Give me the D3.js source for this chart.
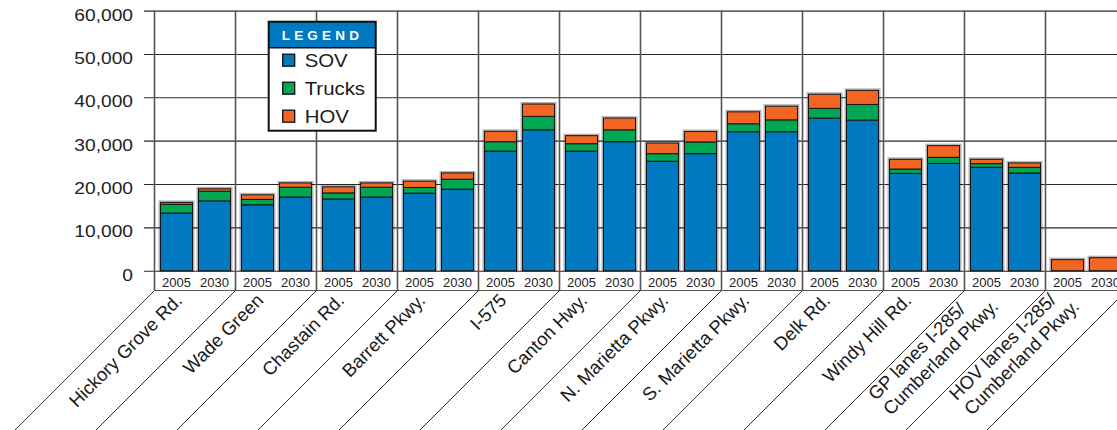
<!DOCTYPE html>
<html>
<head>
<meta charset="utf-8">
<script src="https://cdn.jsdelivr.net/npm/d3@7"></script>
<style>
  html, body { margin: 0; padding: 0; background: #fff; }
  svg { display: block; font-family: "Liberation Sans", Arial, Helvetica, sans-serif; }
</style>
</head>
<body>
<svg id="chart" width="1117" height="430"></svg>
<script>
// Daily volumes by corridor location, 2005 vs 2030, split by vehicle type
const categories = [
  "Hickory Grove Rd.", "Wade Green", "Chastain Rd.", "Barrett Pkwy.", "I-575",
  "Canton Hwy.", "N. Marietta Pkwy.", "S. Marietta Pkwy.", "Delk Rd.", "Windy Hill Rd.",
  "GP lanes I-285/\nCumberland Pkwy.", "HOV lanes I-285/\nCumberland Pkwy."
];
const years = ["2005", "2030"];
const series = ["SOV", "Trucks", "HOV"];

const sov2005    = [13300, 15200, 16550, 17900, 27600, 27600, 25250, 32050, 35200, 22450, 23850, 0];
const sov2030    = [16100, 17000, 17000, 18800, 32500, 29750, 27000, 32050, 34750, 24750, 22550, 0];
const trucks2005 = [2000, 1250, 1400, 1300, 2150, 1700, 1750, 1850, 2250, 1000, 850, 0];
const trucks2030 = [2250, 2250, 2250, 2300, 3100, 2750, 2700, 2750, 3600, 1400, 1300, 0];
const hov2005    = [450, 1050, 1400, 1450, 2400, 1850, 2450, 2750, 3250, 2250, 1000, 2550];
const hov2030    = [550, 1000, 1000, 1450, 2850, 2700, 2400, 3150, 3250, 2700, 1000, 3000];

const yTicks = [0, 10000, 20000, 30000, 40000, 50000, 60000];

const colors = { SOV: "#0079c1", Trucks: "#00a651", HOV: "#f26522" };

const W = 1117, H = 430;
const plotLeft = 154.5, groupStep = 81;
const stripBottom = 290.5;   // bottom edge of the year strip under the bars
const svg = d3.select("#chart");

const byYear = {
  "2005": { SOV: sov2005, Trucks: trucks2005, HOV: hov2005 },
  "2030": { SOV: sov2030, Trucks: trucks2030, HOV: hov2030 }
};
const rows = [];
categories.forEach((c, i) => years.forEach(yr => {
  rows.push({ cat: c, year: yr, SOV: byYear[yr].SOV[i], Trucks: byYear[yr].Trucks[i], HOV: byYear[yr].HOV[i] });
}));
const stacked = d3.stack().keys(series)(rows);

// Scales
const x0 = d3.scaleBand().domain(categories)
  .range([plotLeft, plotLeft + groupStep * categories.length]).padding(0);
const x1 = d3.scaleBand().domain(years).range([6, 76]).paddingInner(6 / 38).paddingOuter(0);
const y = d3.scaleLinear().domain([0, 60000]).range([270.7, 10.6]);

// Horizontal gridlines + value labels
const axis = d3.axisLeft(y).tickValues(yTicks).tickFormat(d3.format(","))
  .tickSize(-(W - 144)).tickPadding(11);
const gAxis = svg.append("g").attr("transform", "translate(144,0)").call(axis);
gAxis.select(".domain").remove();
gAxis.selectAll(".tick line").attr("stroke", "#2a2a2a").attr("stroke-width", 1.1);
const sx = 1.2;
gAxis.selectAll(".tick text")
  .attr("font-size", 16).attr("fill", "#222")
  .attr("font-family", "\"Liberation Sans\", Arial, sans-serif")
  .attr("x", -11 / sx).attr("y", 4.5)
  .attr("transform", `scale(${sx},1)`);

// Group separators, year strip and slanted label dividers
const seps = categories.map(c => x0(c)).concat([x0.range()[1]]);
svg.append("line").attr("x1", plotLeft).attr("x2", W)
  .attr("y1", stripBottom).attr("y2", stripBottom)
  .attr("stroke", "#555").attr("stroke-width", 1.2);
svg.append("g").selectAll("line").data(seps).join("line")
  .attr("x1", d => d).attr("x2", d => d)
  .attr("y1", y(60000)).attr("y2", stripBottom)
  .attr("stroke", "#555").attr("stroke-width", 1.6);
svg.append("g").selectAll("line").data(seps).join("line")
  .attr("x1", d => d).attr("y1", stripBottom)
  .attr("x2", d => d - 220).attr("y2", stripBottom + 220)
  .attr("stroke", "#333").attr("stroke-width", 1);

// Bars: soft halo, then stacked segments
const barX = d => x0(d.cat) + x1(d.year);
svg.append("g").selectAll("rect").data(rows).join("rect")
  .attr("x", d => barX(d) - 1).attr("width", x1.bandwidth() + 2)
  .attr("y", d => y(d.SOV + d.Trucks + d.HOV) - 1)
  .attr("height", d => y(0) - y(d.SOV + d.Trucks + d.HOV) + 1)
  .attr("fill", "none").attr("stroke", "rgba(0,0,0,0.3)").attr("stroke-width", 2);

svg.append("g").selectAll("g").data(stacked).join("g")
  .attr("fill", s => colors[s.key])
  .selectAll("rect").data(s => s.filter(d => d[1] > d[0])).join("rect")
  .attr("x", d => barX(d.data)).attr("width", x1.bandwidth())
  .attr("y", d => y(d[1])).attr("height", d => y(d[0]) - y(d[1]))
  .attr("stroke", "#141414").attr("stroke-width", 1);

// Year labels under each bar
svg.append("g").selectAll("text").data(rows).join("text")
  .attr("x", d => barX(d) + x1.bandwidth() / 2).attr("y", 286.5)
  .attr("text-anchor", "middle").attr("font-size", 13).attr("fill", "#222")
  .text(d => d.year);

// Slanted location labels
const labelSize = 18.5;
const catG = svg.append("g").selectAll("g").data(categories).join("g")
  .attr("transform", c => `translate(${x0(c) + 29},301.5) rotate(-45)`);
catG.each(function (c) {
  const lines = c.split("\n");
  const g = d3.select(this);
  if (lines.length === 1) {
    g.append("text").attr("text-anchor", "end").attr("font-size", labelSize).attr("fill", "#1a1a1a").text(c);
  } else {
    const offs = [-12.7, 8.5];
    const texts = lines.map((ln, k) => g.append("text").attr("font-size", labelSize)
      .attr("fill", "#1a1a1a").attr("y", offs[k]).text(ln));
    const maxW = d3.max(texts, t => t.node().getComputedTextLength());
    texts.forEach(t => t.attr("x", -maxW));
  }
});

// Legend
const lg = svg.append("g").attr("transform", "translate(268.7,21.7)");
lg.append("rect").attr("width", 107).attr("height", 109).attr("fill", "#fff");
lg.append("rect").attr("width", 107).attr("height", 26).attr("fill", colors.SOV);
lg.append("line").attr("x1", 0).attr("x2", 107).attr("y1", 26).attr("y2", 26)
  .attr("stroke", "#111").attr("stroke-width", 1.5);
lg.append("rect").attr("width", 107).attr("height", 109).attr("fill", "none")
  .attr("stroke", "#111").attr("stroke-width", 2);
lg.append("text").attr("x", 13).attr("y", 18).attr("font-size", 13.5).attr("font-weight", "bold")
  .attr("fill", "#fff").attr("letter-spacing", "4.2px").text("LEGEND");
const items = lg.selectAll(".item").data(series).join("g")
  .attr("class", "item")
  .attr("transform", (d, i) => `translate(14,${38.5 + i * 28})`);
items.append("rect").attr("y", -6).attr("width", 12).attr("height", 12)
  .attr("fill", d => colors[d]).attr("stroke", "#111").attr("stroke-width", 1.3);
items.append("text").attr("transform", "translate(22,6.8) scale(1.1,1)")
  .attr("font-size", 18.5).attr("fill", "#1a1a1a").text(d => d);
</script>
</body>
</html>
